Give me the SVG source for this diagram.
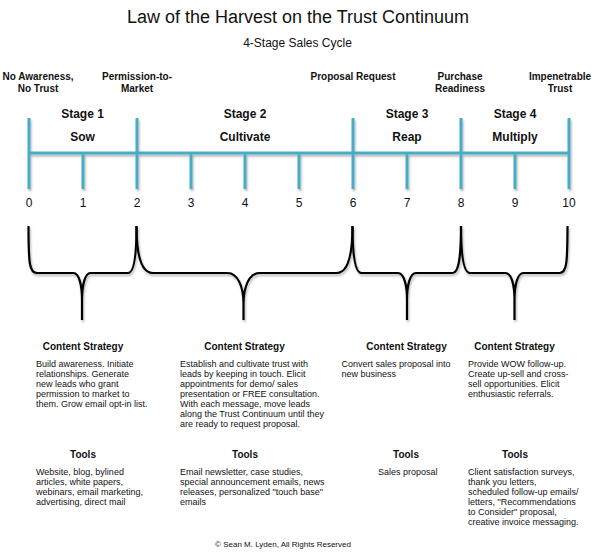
<svg xmlns="http://www.w3.org/2000/svg" width="596" height="556" viewBox="0 0 596 556">
<style>
text{font-family:"Liberation Sans",Arial,sans-serif;fill:#111}
.title{font-size:18px;text-anchor:middle}
.sub{font-size:12px;text-anchor:middle}
.ms{font-size:10px;font-weight:bold;text-anchor:middle}
.stage{font-size:12px;font-weight:bold;text-anchor:middle}
.num{font-size:12px;text-anchor:middle}
.hd{font-size:10px;font-weight:bold;text-anchor:middle}
.body{font-size:9px}
.copy{font-size:8px;text-anchor:middle}
.axis{stroke:#4aacc6;stroke-width:3;fill:none}
.brace{stroke:#000;stroke-width:2.2;fill:none}
</style>
<defs>
<filter id="sh" x="-10%" y="-10%" width="120%" height="130%">
<feDropShadow dx="1" dy="2" stdDeviation="1" flood-color="#000" flood-opacity="0.3"/>
</filter>
</defs>
<rect width="596" height="556" fill="#fff"/>
<text class="title" x="298" y="23">Law of the Harvest on the Trust Continuum</text>
<text class="sub" x="297.5" y="47">4-Stage Sales Cycle</text>

<g id="milestones">
<g id="m0"><text class="ms" x="38" y="80">No Awareness,</text><text class="ms" x="38" y="92">No Trust</text></g>
<g id="m2"><text class="ms" x="137" y="80">Permission-to-</text><text class="ms" x="137" y="92">Market</text></g>
<g id="m6"><text class="ms" x="353" y="80">Proposal Request</text></g>
<g id="m8"><text class="ms" x="460" y="80">Purchase</text><text class="ms" x="460" y="92">Readiness</text></g>
<g id="m10"><text class="ms" x="560" y="80">Impenetrable</text><text class="ms" x="560" y="92">Trust</text></g>
</g>

<g id="stages">
<g id="stage1"><text class="stage" x="82.5" y="118">Stage 1</text><text class="stage" x="82.5" y="141">Sow</text></g>
<g id="stage2"><text class="stage" x="245" y="118">Stage 2</text><text class="stage" x="245" y="141">Cultivate</text></g>
<g id="stage3"><text class="stage" x="407" y="118">Stage 3</text><text class="stage" x="407" y="141">Reap</text></g>
<g id="stage4"><text class="stage" x="515" y="118">Stage 4</text><text class="stage" x="515" y="141">Multiply</text></g>
</g>

<g id="axis" class="axis" filter="url(#sh)">
<line x1="29" y1="153" x2="569" y2="153"/>
<line x1="29" y1="118" x2="29" y2="189"/>
<line x1="83" y1="153" x2="83" y2="189"/>
<line x1="137" y1="118" x2="137" y2="189"/>
<line x1="191" y1="153" x2="191" y2="189"/>
<line x1="245" y1="153" x2="245" y2="189"/>
<line x1="299" y1="153" x2="299" y2="189"/>
<line x1="353" y1="118" x2="353" y2="189"/>
<line x1="407" y1="153" x2="407" y2="189"/>
<line x1="461" y1="118" x2="461" y2="189"/>
<line x1="515" y1="153" x2="515" y2="189"/>
<line x1="569" y1="118" x2="569" y2="189"/>
</g>
<g id="numbers">
<text class="num" x="29" y="207">0</text>
<text class="num" x="83" y="207">1</text>
<text class="num" x="137" y="207">2</text>
<text class="num" x="191" y="207">3</text>
<text class="num" x="245" y="207">4</text>
<text class="num" x="299" y="207">5</text>
<text class="num" x="353" y="207">6</text>
<text class="num" x="407" y="207">7</text>
<text class="num" x="461" y="207">8</text>
<text class="num" x="515" y="207">9</text>
<text class="num" x="569" y="207">10</text>
</g>

<g id="connectors" class="brace" filter="url(#sh)">
<path d="M28.5,226 C28.5,264 29.5,273 37,273 L73.5,273 C79,273 82,285 82,300 L82,320 M82,300 C82,285 85,273 90.5,273 L128,273 C133.5,273 136.5,258 136.5,226"/>
<path d="M136.5,226 C136.5,258 142,273 153,273 L227.5,273 C238,273 243.5,287 243.5,304 L243.5,320 M243.5,304 C243.5,287 249,273 259.5,273 L336.5,273 C347,273 352.5,258 352.5,226"/>
<path d="M352.5,226 C352.5,258 355.5,273 361.5,273 L398,273 C404,273 407,285 407,300 L407,320 M407,300 C407,285 410,273 416,273 L452.5,273 C458.5,273 461,258 461,226"/>
<path d="M461,226 C461,258 464,273 470,273 L505.5,273 C511.5,273 514.5,285 514.5,300 L514.5,320 M514.5,300 C514.5,285 517.5,273 523.5,273 L559.5,273 C566.5,273 567.5,264 567.5,226"/>
</g>

<g id="col1">
<text class="hd" x="83" y="350">Content Strategy</text>
<text class="body" x="36" y="367">Build awareness. Initiate</text>
<text class="body" x="36" y="377">relationships. Generate</text>
<text class="body" x="36" y="387">new leads who grant</text>
<text class="body" x="36" y="397">permission to market to</text>
<text class="body" x="36" y="407">them. Grow email opt-in list.</text>
<text class="hd" x="83" y="458">Tools</text>
<text class="body" x="36" y="475">Website, blog, bylined</text>
<text class="body" x="36" y="485">articles, white papers,</text>
<text class="body" x="36" y="495">webinars, email marketing,</text>
<text class="body" x="36" y="505">advertising, direct mail</text>
</g>
<g id="col2">
<text class="hd" x="244.5" y="350">Content Strategy</text>
<text class="body" x="180" y="367">Establish and cultivate trust with</text>
<text class="body" x="180" y="377">leads by keeping in touch. Elicit</text>
<text class="body" x="180" y="387">appointments for demo/ sales</text>
<text class="body" x="180" y="397">presentation or FREE consultation.</text>
<text class="body" x="180" y="407">With each message, move leads</text>
<text class="body" x="180" y="417">along the Trust Continuum until they</text>
<text class="body" x="180" y="427">are ready to request proposal.</text>
<text class="hd" x="245" y="458">Tools</text>
<text class="body" x="180" y="475">Email newsletter, case studies,</text>
<text class="body" x="180" y="485">special announcement emails, news</text>
<text class="body" x="180" y="495">releases, personalized "touch base"</text>
<text class="body" x="180" y="505">emails</text>
</g>
<g id="col3">
<text class="hd" x="406.5" y="350">Content Strategy</text>
<text class="body" x="341.5" y="367">Convert sales proposal into</text>
<text class="body" x="341.5" y="377">new business</text>
<text class="hd" x="406" y="458">Tools</text>
<text class="body" x="378" y="475">Sales proposal</text>
</g>
<g id="col4">
<text class="hd" x="514.5" y="350">Content Strategy</text>
<text class="body" x="468" y="367">Provide WOW follow-up.</text>
<text class="body" x="468" y="377">Create up-sell and cross-</text>
<text class="body" x="468" y="387">sell opportunities. Elicit</text>
<text class="body" x="468" y="397">enthusiastic referrals.</text>
<text class="hd" x="515" y="458">Tools</text>
<text class="body" x="468" y="475">Client satisfaction surveys,</text>
<text class="body" x="468" y="485">thank you letters,</text>
<text class="body" x="468" y="495">scheduled follow-up emails/</text>
<text class="body" x="468" y="505">letters, "Recommendations</text>
<text class="body" x="468" y="515">to Consider" proposal,</text>
<text class="body" x="468" y="525">creative invoice messaging.</text>
</g>
<text class="copy" x="283" y="547">© Sean M. Lyden, All Rights Reserved</text>
</svg>
